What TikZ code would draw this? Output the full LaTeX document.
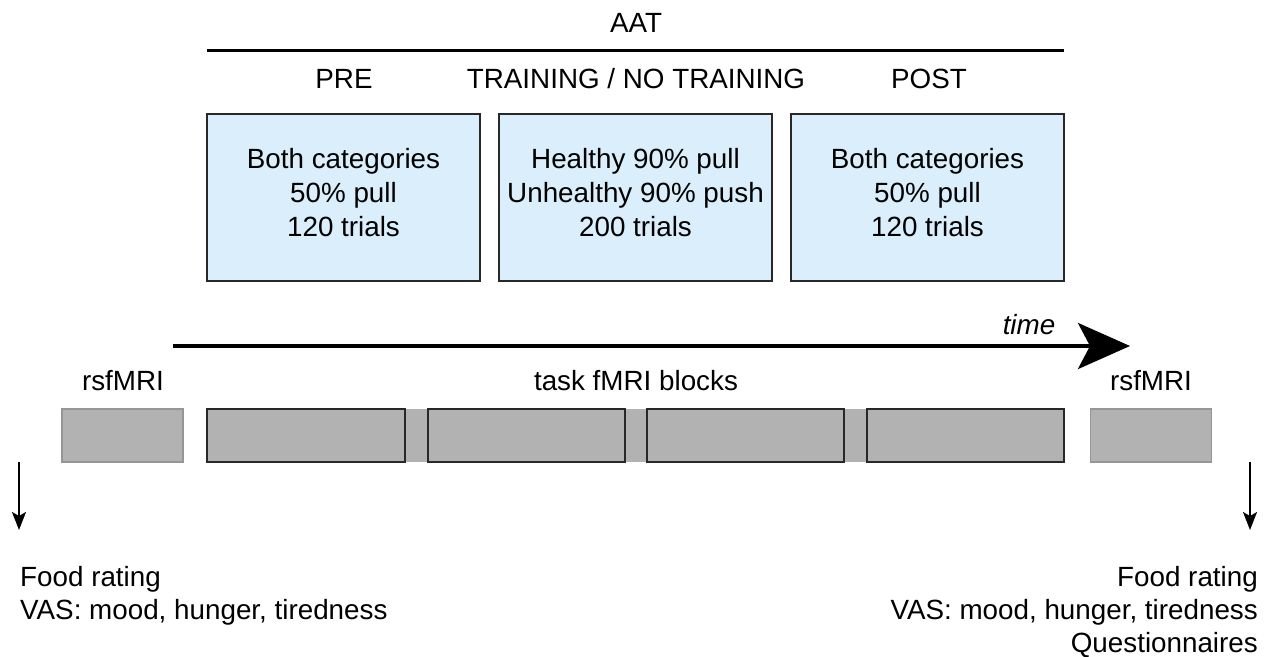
\documentclass[tikz,border=0pt]{standalone}
\usepackage{fontspec}
\setmainfont{Liberation Sans}
\usetikzlibrary{arrows.meta}
\definecolor{phasefill}{RGB}{218,238,251}
\definecolor{blockgray}{RGB}{178,178,178}
\definecolor{edgegray}{RGB}{150,150,150}
\definecolor{edgedark}{RGB}{40,40,40}
\tikzset{
  lbl/.style={inner sep=0pt, anchor=base, font=\fontsize{27.8}{34}\selectfont},
  phase/.style={draw=edgedark, line width=1.5pt, fill=phasefill, minimum width=273pt, minimum height=167pt, inner sep=0pt},
  fmriblock/.style={draw=edgedark, line width=2pt, fill=blockgray, minimum height=53pt, inner sep=0pt},
  restblock/.style={draw=edgegray, line width=1.5pt, fill=blockgray, minimum width=121pt, minimum height=53pt, inner sep=0pt},
  down/.style={line width=2pt, -{Stealth[length=18pt, width=14pt, inset=4pt]}}
}
\begin{document}
\begin{tikzpicture}[x=1pt, y=-1pt]
\useasboundingbox (0,0) rectangle (1271,656);

% AAT heading and bracket line
\node[lbl] (aat) at (636,32) {AAT};
\coordinate (aatL) at (207,50);
\coordinate (aatR) at (1064,50);
\draw[line width=3pt] (aatL) -- (aatR);

% phase titles
\node[lbl] (tpre) at (344,88) {PRE};
\node[lbl] (ttrain) at (636,88) {TRAINING / NO TRAINING};
\node[lbl] (tpost) at (929,88) {POST};

% phase boxes
\node[phase] (pre) at (343.5,197.5) {};
\node[phase] (train) at (635.5,197.5) {};
\node[phase] (post) at (927.5,197.5) {};
\node[lbl, anchor=center, align=center] (preTxt) at ([yshift=4.5pt]pre.center) {Both categories\\50\% pull\\120 trials};
\node[lbl, anchor=center, align=center] (trainTxt) at ([yshift=4.5pt]train.center) {Healthy 90\% pull\\Unhealthy 90\% push\\200 trials};
\node[lbl, anchor=center, align=center] (postTxt) at ([yshift=4.5pt]post.center) {Both categories\\50\% pull\\120 trials};

% time axis
\coordinate (t0) at (173,346);
\coordinate (t1) at (1130,346);
\draw[line width=4pt, -{Stealth[length=52pt, width=46pt, inset=12pt]}] (t0) -- (t1);
\node[lbl, font=\fontsize{27.8}{34}\selectfont\itshape] (time) at (1029,334) {time};

% scan labels
\node[lbl] (rsL) at (123,390) {rsfMRI};
\node[lbl] (task) at (636,390) {task fMRI blocks};
\node[lbl] (rsR) at (1151,390) {rsfMRI};

% scan strip
\fill[blockgray] (207,409) rectangle (1064,462);
\node[restblock] (restL) at (122.5,435.5) {};
\node[fmriblock, minimum width=198pt] (b1) at (306,435.5) {};
\node[fmriblock, minimum width=197pt] (b2) at (526.5,435.5) {};
\node[fmriblock, minimum width=197pt] (b3) at (745.5,435.5) {};
\node[fmriblock, minimum width=197pt] (b4) at (965.5,435.5) {};
\node[restblock] (restR) at (1151,435.5) {};

% behavioural measures before and after scanning
\coordinate (dL0) at (19,462);
\coordinate (dL1) at (19,530);
\coordinate (dR0) at (1250,462);
\coordinate (dR1) at (1250,530);
\draw[down] (dL0) -- (dL1);
\draw[down] (dR0) -- (dR1);

\node[lbl, anchor=base west] (foodL) at (20,586) {Food rating};
\node[lbl, anchor=base west] (vasL) at (20,619) {VAS: mood, hunger, tiredness};
\node[lbl, anchor=base east] (foodR) at (1258,586) {Food rating};
\node[lbl, anchor=base east] (vasR) at (1258,619) {VAS: mood, hunger, tiredness};
\node[lbl, anchor=base east] (quest) at (1258,652) {Questionnaires};
\end{tikzpicture}
\end{document}
